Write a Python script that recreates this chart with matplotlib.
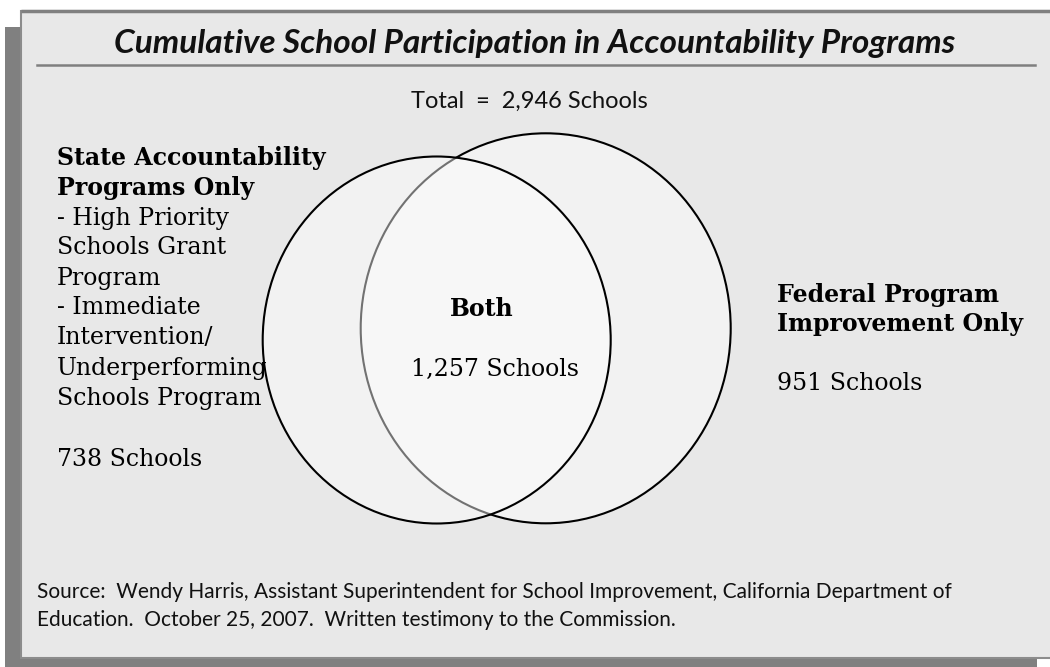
import matplotlib
matplotlib.use("Agg")
import matplotlib.pyplot as plt
from matplotlib.patches import Rectangle, Ellipse

# ---- data ----
title = "Cumulative School Participation in Accountability Programs"
total_label = "Total  =  2,946 Schools"
state_heading = ["State Accountability", "Programs Only"]
state_items = ["- High Priority", "Schools Grant", "Program", "- Immediate",
               "Intervention/", "Underperforming", "Schools Program"]
state_count = "738 Schools"
both_heading = "Both"
both_count = "1,257 Schools"
fed_heading = ["Federal Program", "Improvement Only"]
fed_count = "951 Schools"
source_lines = [
    "Source:  Wendy Harris, Assistant Superintendent for School Improvement, California Department of",
    "Education.  October 25, 2007.  Written testimony to the Commission.",
]

W, H = 1050, 667
fig = plt.figure(figsize=(W / 100, H / 100), dpi=100)
fig.patch.set_facecolor("white")
ax = fig.add_axes([0, 0, 1, 1])
ax.set_xlim(0, W)
ax.set_ylim(H, 0)
ax.axis("off")

# shadow and panel
ax.add_patch(Rectangle((5, 27), 1032, 660, facecolor="#808080", edgecolor="none", zorder=0))
ax.add_patch(Rectangle((21, 10.5), 1040, 647, facecolor="#e8e8e8", edgecolor="#8c8c8c",
                       linewidth=1.5, zorder=1))
ax.plot([21, 1050], [10.5, 10.5], color="#808080", lw=2.5, zorder=2, solid_capstyle="butt")

sans = "Lato"
serif = "DejaVu Serif"

ax.text(535, 43, title, ha="center", va="center", fontsize=24, fontstyle="italic",
        fontweight="bold", family=sans, color="#111111", zorder=5)
ax.plot([37, 1035], [65, 65], color="#7f7f7f", lw=1.8, zorder=3)
ax.text(529, 101, total_label, ha="center", va="center", fontsize=17, family=sans,
        color="#111111", zorder=5)

# Venn circles
ax.add_patch(Ellipse((545.7, 328.3), 370, 390, facecolor=(1, 1, 1, 0.45), edgecolor="black",
                     linewidth=1.5, zorder=3))
ax.add_patch(Ellipse((436.7, 340), 348, 367, facecolor=(1, 1, 1, 0.45), edgecolor="none",
                     zorder=4))
ax.add_patch(Ellipse((436.7, 340), 348, 367, facecolor="none", edgecolor="black",
                     linewidth=1.5, zorder=4))

fs = 17
lh = 30
x0 = 57
y = 158
for s in state_heading:
    ax.text(x0, y, s, ha="left", va="center", fontsize=fs, fontweight="bold", family=serif, zorder=6)
    y += lh
for s in state_items:
    ax.text(x0, y, s, ha="left", va="center", fontsize=fs, family=serif, zorder=6)
    y += lh
ax.text(x0, 460, state_count, ha="left", va="center", fontsize=fs, family=serif, zorder=6)

ax.text(482, 309, both_heading, ha="center", va="center", fontsize=fs, fontweight="bold",
        family=serif, zorder=6)
ax.text(495, 369, both_count, ha="center", va="center", fontsize=fs, family=serif, zorder=6)

y = 295
for s in fed_heading:
    ax.text(777, y, s, ha="left", va="center", fontsize=fs, fontweight="bold", family=serif, zorder=6)
    y += 29
ax.text(777, 384, fed_count, ha="left", va="center", fontsize=fs, family=serif, zorder=6)

ys = 592
for s in source_lines:
    ax.text(37, ys, s, ha="left", va="center", fontsize=15, family=sans, color="#111111", zorder=6)
    ys += 28

fig.savefig("out.png", dpi=100, facecolor="white")
